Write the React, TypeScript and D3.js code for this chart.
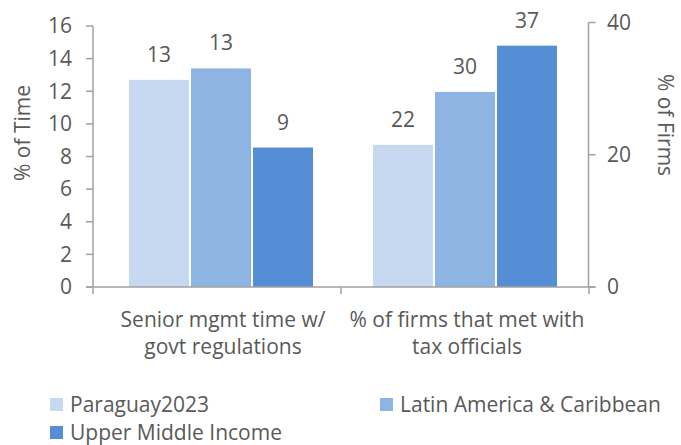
import React from "react";
import * as d3 from "d3";

const categories = ["Senior mgmt time w/ govt regulations", "% of firms that met with tax officials"];
const categoryLines = [["Senior mgmt time w/", "govt regulations"], ["% of firms that met with", "tax officials"]];
const seriesNames = ["Paraguay2023", "Latin America & Caribbean", "Upper Middle Income"];
const seriesColors = ["#C6D9F1", "#8EB4E3", "#558ED5"];
// values per series: [senior mgmt time (% of time, left axis), firms met tax officials (% of firms, right axis)]
const paraguay = [12.7, 21.5];
const lac = [13.4, 29.5];
const umi = [8.55, 36.5];
const labels = [[13, 22], [13, 30], [9, 37]];
const leftTicks = [0, 2, 4, 6, 8, 10, 12, 14, 16];
const rightTicks = [0, 20, 40];

const W = 681;
const H = 445;
const FONT = "'Open Sans', sans-serif";
const TXT = "#595959";
const AX = "#A0A0A0";

export default function App() {
  const series = [paraguay, lac, umi];
  const x = d3.scaleBand<string>().domain(categories).range([93, 589]).paddingInner(0).paddingOuter(0);
  const inner = d3.scaleBand<number>().domain([0, 1, 2]).range([0, 184]).paddingInner(0.033);
  const yL = d3.scaleLinear().domain([0, 16]).range([287, 26]);
  const yR = d3.scaleLinear().domain([0, 40]).range([287, 22.5]);
  const yFor = (ci: number) => (ci === 0 ? yL : yR);
  const fs = 21;
  const shift = (ci: number) => (ci === 0 ? 4 : 0);

  return (
    <svg width={W} height={H} style={{ position: "absolute", left: 0, top: 0, background: "#fff" }} fontFamily={FONT}>
      {/* bars */}
      {categories.map((c, ci) => {
        const bx = (x(c) as number) + x.bandwidth() / 2 - 92 + shift(ci);
        const y = yFor(ci);
        return series.map((s, si) => {
          const v = s[ci];
          const left = bx + (inner(si) as number);
          return (
            <g key={`${ci}-${si}`}>
              <rect x={left} y={y(v)} width={inner.bandwidth()} height={y(0) - y(v)} fill={seriesColors[si]} />
              <text x={left + inner.bandwidth() / 2} y={y(v) - 18} textAnchor="middle" fontSize={fs} fill={TXT}>
                {labels[si][ci]}
              </text>
            </g>
          );
        });
      })}
      {/* left axis */}
      <line x1={93} x2={93} y1={yL(16)} y2={yL(0)} stroke={AX} strokeWidth={1.5} />
      {leftTicks.map((t) => (
        <g key={`l${t}`}>
          <line x1={86} x2={93} y1={yL(t)} y2={yL(t)} stroke={AX} strokeWidth={1.5} />
          <text x={72} y={yL(t)} dy="0.35em" textAnchor="end" fontSize={fs} fill={TXT}>
            {t}
          </text>
        </g>
      ))}
      {/* right axis */}
      <line x1={588.5} x2={588.5} y1={yR(40)} y2={yR(0)} stroke={AX} strokeWidth={1.5} />
      {rightTicks.map((t) => (
        <g key={`r${t}`}>
          <line x1={588.5} x2={595.5} y1={yR(t)} y2={yR(t)} stroke={AX} strokeWidth={1.5} />
          <text x={607} y={yR(t)} dy="0.35em" textAnchor="start" fontSize={fs} fill={TXT}>
            {t}
          </text>
        </g>
      ))}
      {/* x axis */}
      <line x1={86} x2={595.5} y1={287} y2={287} stroke={AX} strokeWidth={1.5} />
      {[93, x(categories[1]) as number, 589].map((tx, i) => (
        <line key={`xt${i}`} x1={tx} x2={tx} y1={287} y2={294} stroke={AX} strokeWidth={1.5} />
      ))}
      {categories.map((c, ci) => (
        <text key={c} textAnchor="middle" fontSize={fs} fill={TXT}>
          {categoryLines[ci].map((ln, li) => (
            <tspan key={li} x={(x(c) as number) + x.bandwidth() / 2 + shift(ci) + 2} y={326.5 + li * 27.5}>
              {ln}
            </tspan>
          ))}
        </text>
      ))}
      {/* axis titles */}
      <text transform={`translate(30,133) rotate(-90)`} textAnchor="middle" fontSize={fs} fill={TXT}>
        % of Time
      </text>
      <text transform={`translate(658,125) rotate(90)`} textAnchor="middle" fontSize={fs} fill={TXT}>
        % of Firms
      </text>
      {/* legend */}
      {seriesNames.map((n, i) => {
        const lx = i === 1 ? 380 : 50;
        const ly = i === 2 ? 432.5 : 404.5;
        return (
          <g key={n}>
            <rect x={lx} y={ly - 6.5} width={13} height={13} fill={seriesColors[i]} />
            <text x={lx + 20} y={ly} dy="0.35em" fontSize={fs} fill={TXT}>
              {n}
            </text>
          </g>
        );
      })}
    </svg>
  );
}
